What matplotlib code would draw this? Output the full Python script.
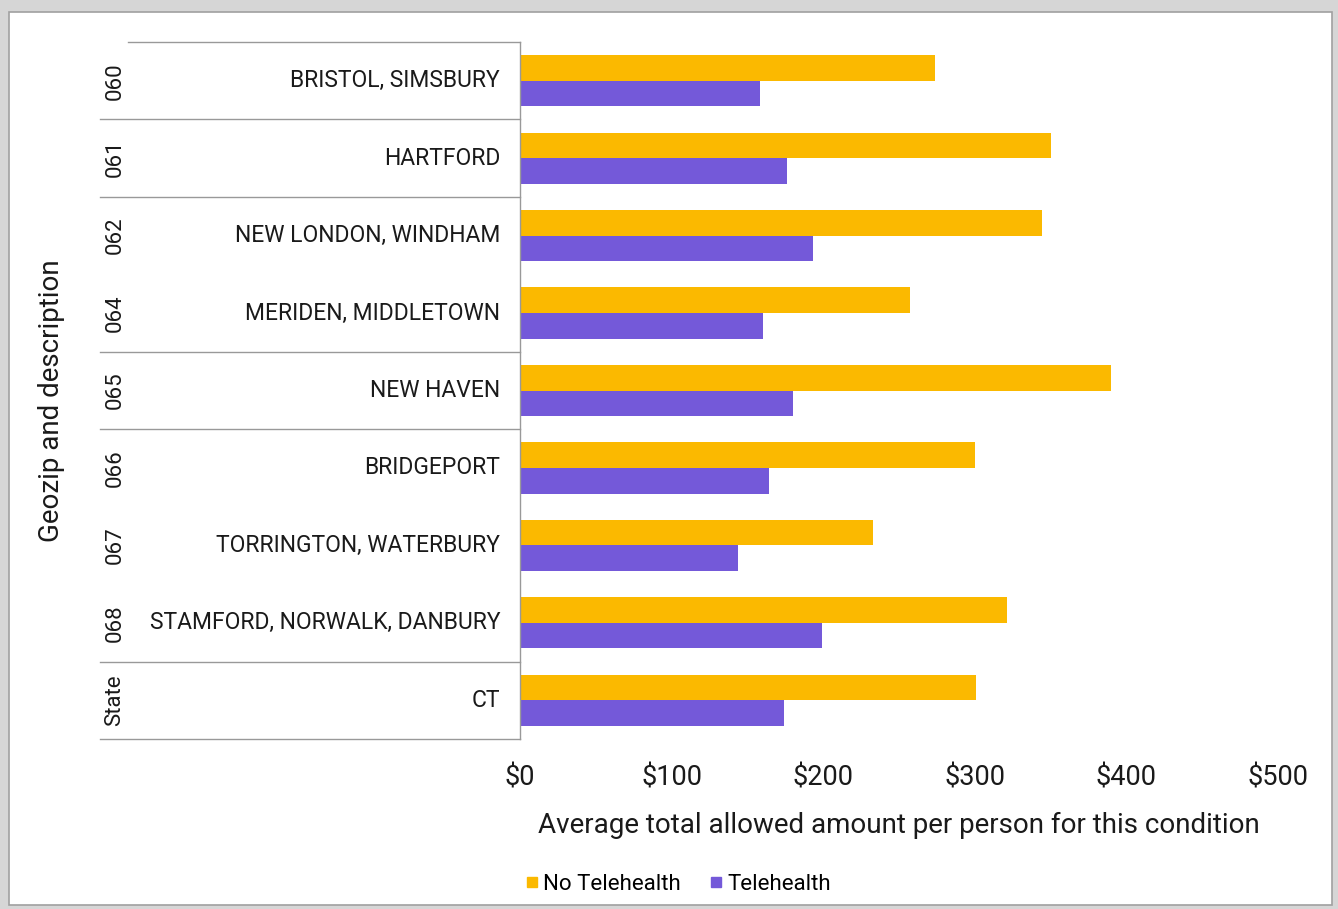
import matplotlib
matplotlib.use('Agg')
from matplotlib import pyplot as plt
from matplotlib.patches import Rectangle
from matplotlib.lines import Line2D
from matplotlib.transforms import blended_transform_factory
import numpy as np

plt.rcParams['font.family'] = ['Roboto', 'DejaVu Sans']

# Average allowed amount per person, by geozip
codes = ['060', '061', '062', '064', '065', '066', '067', '068', 'State']
places = ['BRISTOL, SIMSBURY', 'HARTFORD', 'NEW LONDON, WINDHAM',
          'MERIDEN, MIDDLETOWN', 'NEW HAVEN', 'BRIDGEPORT',
          'TORRINGTON, WATERBURY', 'STAMFORD, NORWALK, DANBURY', 'CT']
no_telehealth = [274, 350, 344, 257, 390, 300, 233, 321, 301]
telehealth = [158, 176, 193, 160, 180, 164, 144, 199, 174]
x_ticks = [0, 100, 200, 300, 400, 500]

# rows that close a group in the side table
group_ends = [0, 1, 3, 4, 7, 8]

yellow = '#FBB900'
purple = '#7459D9'

W, H = 1338, 909
fig = plt.figure(figsize=(W / 100, H / 100), dpi=100, facecolor='#d6d6d6')

# white card with thin border, kept behind everything
card = Rectangle((9 / W, 4 / H), (1323 / W), (893 / H),
                 transform=fig.transFigure, facecolor='white',
                 edgecolor='#a0a0a0', linewidth=1.2, zorder=-10)
fig.add_artist(card)

ax = fig.add_axes([520 / W, 1 - 739 / H, 758 / W, 697 / H])
ax.set_facecolor('none')

y = np.arange(len(codes))
h = 0.33
ax.barh(y - h / 2, no_telehealth, height=h, color=yellow, label='No Telehealth')
ax.barh(y + h / 2, telehealth, height=h, color=purple, label='Telehealth')

ax.set_xlim(0, 500)
ax.set_ylim(len(codes) - 0.5, -0.5)
ax.set_xticks(x_ticks)
ax.set_xticklabels([f'${v}' for v in x_ticks], fontsize=19.5, color='#1a1a1a')
ax.set_yticks([])
ax.tick_params(axis='x', length=0, pad=18)
for side in ['top', 'right', 'bottom']:
    ax.spines[side].set_visible(False)
ax.spines['left'].set_color('#999999')
ax.spines['left'].set_linewidth(1)

ax.set_xlabel('Average total allowed amount per person for this condition',
              fontsize=20, color='#1a1a1a', labelpad=15)

# side table: codes, place names and separators
tr = blended_transform_factory(fig.transFigure, ax.transData)
for i, (code, place) in enumerate(zip(codes, places)):
    ax.text(500 / W, i, place, transform=tr, ha='right', va='center',
            fontsize=16.5, color='#1a1a1a')
    ax.text(115 / W, i, code, transform=tr, ha='center', va='center',
            rotation=90, fontsize=16, color='#1a1a1a')

ax.add_line(Line2D([128 / W, 520 / W], [-0.5, -0.5], transform=tr,
                   color='#999999', lw=1, clip_on=False))
for i in group_ends:
    ax.add_line(Line2D([100 / W, 520 / W], [i + 0.5, i + 0.5], transform=tr,
                       color='#999999', lw=1, clip_on=False))

fig.text(52 / W, 1 - 401 / H, 'Geozip and description', rotation=90,
         ha='center', va='center', fontsize=20, color='#1a1a1a')

handles = [Line2D([], [], marker='s', linestyle='none', markersize=7,
                  color=yellow, label='No Telehealth'),
           Line2D([], [], marker='s', linestyle='none', markersize=7,
                  color=purple, label='Telehealth')]
fig.legend(handles=handles, loc='center', bbox_to_anchor=(677 / W, 1 - 884 / H),
           ncol=2, frameon=False, fontsize=16, handletextpad=0.1,
           columnspacing=1.2, handlelength=0.8)

fig.savefig('out.png', dpi=100, facecolor=fig.get_facecolor())
